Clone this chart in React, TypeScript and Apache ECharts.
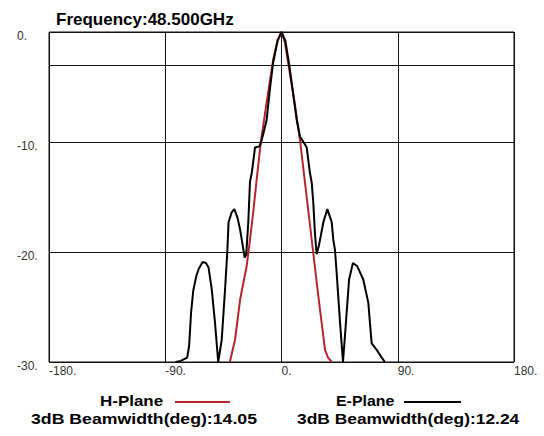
import React, { useEffect, useRef } from "react";
import * as echarts from "echarts";

// H-Plane (red) pattern: angle (deg) and level (dB)
const hPlaneAngles = [-40, -36, -32, -27, -24.5, -22, -19.2, -16, -11.5, -6.4, -3, 0, 2.5, 5.3, 10.4, 14.5, 19, 24, 28.5, 33.7, 36, 39];
const hPlaneDb = [-30, -28, -24.3, -21.3, -19, -16.5, -13.4, -10, -6.4, -2.5, -0.7, 0, -0.9, -2.9, -6.6, -10, -14.5, -19.5, -24, -28.9, -29.6, -30];

// E-Plane (black) pattern
const ePlaneAngles = [
  -82, -78, -73, -71.5, -70, -68.3, -66, -64, -61, -58.5, -56.5, -54, -51.5, -49,
  -46.3, -43.7, -42, -41, -38.6, -36.5, -34, -32, -28.5, -27.3, -25.7, -24.4, -23,
  -20.5, -17, -15.3, -14, -11.5, -9, -6.5, -3, 0, 3, 6, 9, 11.8, 14.3, 17.5, 19.5,
  20.7, 22, 23.4, 24.6, 25.9, 27.2, 29, 32.4, 35.5, 38.9, 40.1, 41.4, 42.7, 45.3,
  47.6, 49.9, 52.3, 55.3, 58.7, 63.3, 67.2, 69.8, 73.7, 77.6, 80.1,
];
const ePlaneDb = [
  -30, -29.9, -29.6, -28.5, -25.5, -23.5, -22.2, -21.5, -20.9, -21.0, -21.4, -23.4, -26.4, -30,
  -28, -23.4, -20.1, -17.3, -16.4, -16.1, -16.9, -18, -20.5, -20.2, -17.3, -13.6, -12.8,
  -10.5, -10.4, -9.8, -9.2, -8, -5.2, -2.8, -0.8, 0, -0.8, -3, -5.6, -8, -9.5, -10.1, -10.5,
  -11.6, -12.8, -13.7, -15.5, -18.3, -20.2, -19.4, -17.3, -16.1, -17.3, -18.9, -19.8, -21.9, -26.4,
  -30, -26.4, -22.5, -21, -21.3, -22.5, -24.6, -28.3, -28.9, -29.6, -30,
];

const xTicks = { min: -180, max: 180, interval: 90 };
const yTicks = { min: -30, max: 0, interval: 10 };
const halfPowerLevel = -3;

const titleText = "Frequency:48.500GHz";
const hPlaneName = "H-Plane";
const ePlaneName = "E-Plane";
const hBeamwidthText = "3dB Beamwidth(deg):14.05";
const eBeamwidthText = "3dB Beamwidth(deg):12.24";

const FONT = '"Liberation Sans", Arial, sans-serif';
const RED = "#b3262b";
const BLACK = "#000";

const legendText = (text: string, x: number, y: number, scaleX: number) => ({
  type: "text",
  x,
  y,
  scaleX,
  style: {
    text,
    fontSize: 15,
    fontWeight: "bold",
    fontFamily: FONT,
    fill: "#000",
    align: "left",
    verticalAlign: "middle",
  },
});

export default function App() {
  const ref = useRef<HTMLDivElement>(null);

  useEffect(() => {
    if (!ref.current) return;
    const chart = echarts.init(ref.current, undefined, { renderer: "svg" });
    const hData = hPlaneAngles.map((a, i) => [a, hPlaneDb[i]]);
    const eData = ePlaneAngles.map((a, i) => [a, ePlaneDb[i]]);

    chart.setOption({
      animation: false,
      backgroundColor: "#fff",
      title: {
        text: titleText,
        left: 56,
        top: 11,
        padding: 0,
        textStyle: { fontSize: 17, fontWeight: "bold", fontFamily: FONT, color: "#000" },
      },
      grid: {
        left: 49,
        top: 32,
        width: 465,
        height: 330,
        show: true,
        borderColor: "#111",
        borderWidth: 1,
        backgroundColor: "transparent",
      },
      xAxis: {
        type: "value",
        min: xTicks.min,
        max: xTicks.max,
        interval: xTicks.interval,
        axisLine: { show: false },
        axisTick: { show: false },
        splitLine: { show: true, lineStyle: { color: "#111", width: 1 } },
        axisLabel: {
          formatter: (v: number) => `${v}.`,
          align: "left",
          margin: 3,
          fontSize: 12,
          lineHeight: 12,
          fontFamily: FONT,
          color: "#333",
          showMinLabel: true,
          showMaxLabel: true,
          hideOverlap: false,
        },
      },
      yAxis: {
        type: "value",
        min: yTicks.min,
        max: yTicks.max,
        interval: yTicks.interval,
        axisLine: { show: false },
        axisTick: { show: false },
        splitLine: { show: true, lineStyle: { color: "#111", width: 1 } },
        axisLabel: {
          formatter: (v: number) => `${v}.`,
          align: "left",
          verticalAlign: "top",
          lineHeight: 8,
          margin: 32,
          fontSize: 12,
          fontFamily: FONT,
          color: "#333",
        },
      },
      series: [
        {
          name: hPlaneName,
          type: "line",
          data: hData,
          showSymbol: false,
          symbol: "none",
          lineStyle: { color: RED, width: 2 },
          z: 3,
        },
        {
          name: ePlaneName,
          type: "line",
          data: eData,
          showSymbol: false,
          symbol: "none",
          lineStyle: { color: BLACK, width: 2 },
          z: 4,
          markLine: {
            silent: true,
            symbol: "none",
            label: { show: false },
            lineStyle: { color: "#111", width: 1, type: "solid" },
            data: [{ yAxis: halfPowerLevel }],
          },
        },
      ],
      graphic: [
        legendText(hPlaneName, 100, 401, 1.13),
        {
          type: "line",
          shape: { x1: 175, y1: 402, x2: 230, y2: 402 },
          style: { stroke: RED, lineWidth: 2 },
        },
        legendText(ePlaneName, 336, 401, 1.06),
        {
          type: "line",
          shape: { x1: 404, y1: 402, x2: 461, y2: 402 },
          style: { stroke: BLACK, lineWidth: 2 },
        },
        legendText(hBeamwidthText, 31, 418.5, 1.18),
        legendText(eBeamwidthText, 297, 418.5, 1.16),
      ],
    });

    return () => chart.dispose();
  }, []);

  return (
    <div
      ref={ref}
      style={{ position: "fixed", left: 0, top: 0, width: 544, height: 436, background: "#fff" }}
    />
  );
}
